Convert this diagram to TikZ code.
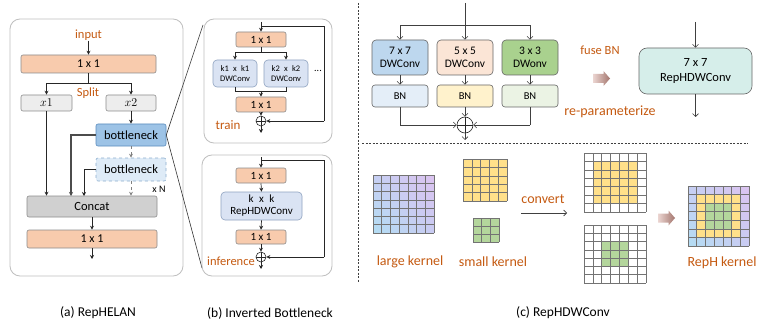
\documentclass[tikz,border=0pt]{standalone}
\usepackage{fontspec}
\setmainfont{Carlito}
\usetikzlibrary{arrows.meta,calc,shadings}
\definecolor{orn}{HTML}{C55A11}
\definecolor{peach}{HTML}{F8CBAD}
\definecolor{lgrey}{HTML}{EDEDED}
\definecolor{cgrey}{HTML}{D0D0D0}
\definecolor{bnblue}{HTML}{9DC3E6}
\definecolor{bndark}{HTML}{5B8DBE}
\definecolor{bnlblue}{HTML}{DEEBF7}
\definecolor{dwblue}{HTML}{DAE3F3}
\definecolor{dwbord}{HTML}{8FA3C0}
\definecolor{cseven}{HTML}{BDD7EE}
\definecolor{cfive}{HTML}{FBE5D6}
\definecolor{cthree}{HTML}{A9D18E}
\definecolor{bseven}{HTML}{E4EEF8}
\definecolor{bfive}{HTML}{FFF2CC}
\definecolor{bthree}{HTML}{EBF3E4}
\definecolor{repteal}{HTML}{D6EEEA}
\definecolor{kyel}{HTML}{FFE08A}
\definecolor{kgreen}{HTML}{B4D69C}
\definecolor{bord}{HTML}{8C8C8C}
\definecolor{panelb}{HTML}{BFBFBF}
\definecolor{kUL}{HTML}{C6CFF3}
\definecolor{kUR}{HTML}{DCC3F0}
\definecolor{kLL}{HTML}{B3DDF3}
\definecolor{kLR}{HTML}{C9CBF2}
\definecolor{barL}{HTML}{EBD5D1}
\definecolor{barR}{HTML}{A4766E}
\newcommand{\myfs}[1]{\fontsize{#1}{#1}\selectfont}
\newcommand{\kgrid}[5]{%
  \foreach \i in {0,...,#5}{%
    \pgfmathsetmacro{\kgx}{#1+(#3-#1)*\i/#5}%
    \pgfmathsetmacro{\kgy}{#2+(#4-#2)*\i/#5}%
    \draw[gridline] (\kgx,#2) -- (\kgx,#4);
    \draw[gridline] (#1,\kgy) -- (#3,\kgy);
  }}
\newcommand{\kcell}[8]{%
  \pgfmathsetmacro{\kxa}{#1+(#3-#1)*#6/#5}%
  \pgfmathsetmacro{\kya}{#2+(#4-#2)*#6/#5}%
  \pgfmathsetmacro{\kxb}{#1+(#3-#1)*(#7+1)/#5}%
  \pgfmathsetmacro{\kyb}{#2+(#4-#2)*(#7+1)/#5}%
  \fill[#8] (\kxa,\kya) rectangle (\kxb,\kyb);}
\newcommand{\blockarrow}[2]{%
  \shade[left color=barL, right color=barR, shift={(#1,#2)}]
    (-8.5,-4.5) -- (2,-4.5) -- (2,-7.5) -- (8.5,0) -- (2,7.5) -- (2,4.5) -- (-8.5,4.5) -- cycle;}
\begin{document}
\begin{tikzpicture}[x=1pt,y=-1pt,
  box/.style={draw=bord, line width=0.6pt, rounded corners=2pt, inner sep=0pt, align=center},
  panel/.style={draw=panelb, line width=0.8pt, rounded corners=10pt},
  lbl/.style={text=orn, inner sep=0pt},
  arr/.style={-{Stealth[length=4pt,width=4pt]}, line width=0.7pt, draw=black!85},
  arrc/.style={-{Straight Barb[length=3pt,width=6pt]}, line width=0.6pt, draw=black!75},
  lin/.style={line width=0.7pt, draw=black!85},
  linc/.style={line width=0.6pt, draw=black!75},
  plus/.style={circle, draw=black!85, line width=0.6pt, inner sep=0pt, minimum size=#1,
    path picture={\draw[line width=0.6pt] (path picture bounding box.north) -- (path picture bounding box.south) (path picture bounding box.west) -- (path picture bounding box.east);}},
  gridline/.style={draw=black!55, line width=0.6pt},
  sepline/.style={dash pattern=on 2pt off 1.5pt, line width=0.6pt, draw=black!75}
]
\useasboundingbox (0,0) rectangle (757,326);
\fill[white] (0,0) rectangle (757,326);

% ---------------- (a) RepHELAN
\draw[panel] (10,19) rectangle (183,276);
\node[lbl, font=\myfs{12.5}] (inT) at (88.5,35) {input};
\node[box, fill=peach, minimum width=135pt, minimum height=18pt, font=\myfs{12}] (a1) at (88.5,64) {1 x 1};
\coordinate (aS) at (88.5,83);
\node[box, fill=lgrey, minimum width=51pt, minimum height=16pt, font=\myfs{13}] (x1) at (46.5,103) {$x1$};
\node[box, fill=lgrey, minimum width=50pt, minimum height=16pt, font=\myfs{13}] (x2) at (131,103) {$x2$};
\node[lbl, font=\myfs{12.5}] (split) at (88,93) {Split};
\node[box, fill=bnblue, draw=bndark, minimum width=70pt, minimum height=22pt, font=\myfs{12.5}] (bn1) at (131,135) {bottleneck};
\node[box, fill=bnlblue, draw=bnblue!90!black, dashed, minimum width=70pt, minimum height=23pt, font=\myfs{12.5}] (bn2) at (131,169.5) {bottleneck};
\node[font=\myfs{10}, inner sep=0pt] (xn) at (159,189) {x N};
\node[box, fill=cgrey, minimum width=130pt, minimum height=21pt, font=\myfs{12.5}] (cc) at (92,206.5) {Concat};
\node[box, fill=peach, minimum width=130pt, minimum height=18pt, font=\myfs{12}] (a2) at (92,239) {1 x 1};
\coordinate (aout) at (92,259);
\coordinate (cA) at (71,196);
\coordinate (cB) at (84,196);
\draw[arr] (inT.south) -- (a1.north);
\draw[lin] (a1.south) -- (aS);
\draw[arr] (aS) -| (x1.north);
\draw[arr] (aS) -| (x2.north);
\draw[arr] (x1.south) -- (x1.south |- cc.north);
\draw[arr] (x2.south) -- (bn1.north);
\draw[arr, line width=1.3pt, draw=black!70] (bn1.west) -| (cA);
\draw[arr, dashed, draw=black!50] (bn1.south) -- (bn2.north);
\draw[arr] (bn2.west) -| (cB);
\draw[arr, dashed, draw=black!50] (bn2.south) -- (bn2.south |- cc.north);
\draw[arr] (cc.south) -- (a2.north);
\draw[arr] (a2.south) -- (aout);

% zoom lines
\coordinate (zt) at (203,25);
\coordinate (zb) at (202,268);
\draw[line width=0.6pt, draw=black!80] (bn1.east) -- (zt);
\draw[line width=0.6pt, draw=black!80] (bn1.east) -- (zb);

% ---------------- (b) top: train
\draw[panel] (204,19) rectangle (332,143);
\coordinate (bin) at (261,22);
\coordinate (bfb) at (261,26);
\node[box, fill=peach, minimum width=50pt, minimum height=15pt, font=\myfs{11}] (b1) at (261,39.5) {1 x 1};
\coordinate (bS) at (261,52);
\node[box, fill=dwblue, draw=dwbord, rounded corners=4pt, minimum width=44pt, minimum height=27pt, font=\myfs{8.5}] (k1) at (235,73.5) {k1\enspace x\enspace k1\\[1pt]DWConv};
\node[box, fill=dwblue, draw=dwbord, rounded corners=4pt, minimum width=44pt, minimum height=27pt, font=\myfs{8.5}] (k2) at (286,73.5) {k2\enspace x\enspace k2\\[1pt]DWConv};
\node[font=\myfs{10}, inner sep=0pt] (dots) at (318,71) {...};
\coordinate (j1) at (235,91);
\coordinate (j2) at (286,91);
\coordinate (jm) at (261,91);
\node[box, fill=peach, minimum width=50pt, minimum height=15pt, font=\myfs{11}] (b2) at (261,104.5) {1 x 1};
\node[plus=10pt] (p1) at (261,121) {};
\coordinate (bo1) at (261,133);
\coordinate (f1) at (324,26);
\coordinate (f2) at (324,121);
\node[lbl, font=\myfs{13}] (train) at (228,125) {train};
\draw[arr] (bin) -- (b1.north);
\draw[lin] (bfb) -- (f1) -- (f2);
\draw[arr] (f2) -- (p1.east);
\draw[lin] (b1.south) -- (bS);
\draw[arr] (bS) -| (k1.north);
\draw[arr] (bS) -| (k2.north);
\draw[lin] (k1.south) -- (j1) -- (j2) -- (k2.south);
\draw[arr] (jm) -- (b2.north);
\draw[arr] (b2.south) -- (p1.north);
\draw[arr] (p1.south) -- (bo1);

% ---------------- (b) bottom: inference
\draw[panel] (202,155) rectangle (332,276);
\coordinate (cin) at (261,157);
\coordinate (cfb) at (261,160);
\node[box, fill=peach, minimum width=50pt, minimum height=15pt, font=\myfs{11}] (c1) at (261,175.5) {1 x 1};
\node[box, fill=dwblue, draw=dwbord, rounded corners=4pt, minimum width=81pt, minimum height=28pt, font=\myfs{11}] (rep) at (261.5,206) {k\enspace x\enspace k\\[1pt]RepHDWConv};
\node[box, fill=peach, minimum width=50pt, minimum height=14pt, font=\myfs{11}] (c2) at (261,237) {1 x 1};
\node[plus=10pt] (p2) at (261,257) {};
\coordinate (bo2) at (261,269);
\coordinate (g1) at (324,160);
\coordinate (g2) at (324,257);
\node[lbl, font=\myfs{12.5}] (inf) at (231,261) {inference};
\draw[arr] (cin) -- (c1.north);
\draw[lin] (cfb) -- (g1) -- (g2);
\draw[arr] (g2) -- (p2.east);
\draw[arr] (c1.south) -- (rep.north);
\draw[arr] (rep.south) -- (c2.north);
\draw[arr] (c2.south) -- (p2.north);
\draw[arr] (p2.south) -- (bo2);

% ---------------- separators
\draw[sepline] (358,3) -- (358,282);
\draw[sepline] (362,143) -- (748,143);

% ---------------- (c) top
\coordinate (tin) at (465,3);
\coordinate (tb) at (465,25);
\node[box, fill=cseven, draw=black!60, rounded corners=4pt, minimum width=56pt, minimum height=35pt, font=\myfs{11.5}] (d7) at (400,57.5) {7 x 7\\[1pt]DWConv};
\node[box, fill=cfive, draw=black!60, rounded corners=4pt, minimum width=56pt, minimum height=35pt, font=\myfs{11.5}] (d5) at (465,57.5) {5 x 5\\[1pt]DWConv};
\node[box, fill=cthree, draw=black!60, rounded corners=4pt, minimum width=56pt, minimum height=35pt, font=\myfs{11.5}] (d3) at (530,57.5) {3 x 3\\[1pt]DWonv};
\node[box, fill=bseven, draw=black!60, rounded corners=3pt, minimum width=56pt, minimum height=22pt, font=\myfs{10.5}] (n7) at (400,96) {BN};
\node[box, fill=bfive, draw=black!60, rounded corners=3pt, minimum width=56pt, minimum height=22pt, font=\myfs{10.5}] (n5) at (465,96) {BN};
\node[box, fill=bthree, draw=black!60, rounded corners=3pt, minimum width=56pt, minimum height=22pt, font=\myfs{10.5}] (n3) at (530,96) {BN};
\node[plus=16pt] (p3) at (465,125) {};
\coordinate (tout) at (465,140);
\coordinate (l7) at (400,125);
\coordinate (l3) at (530,125);
\draw[arrc] (tin) -- (d5.north);
\draw[arrc] (tb) -| (d7.north);
\draw[arrc] (tb) -| (d3.north);
\draw[arrc] (d7.south) -- (n7.north);
\draw[arrc] (d5.south) -- (n5.north);
\draw[arrc] (d3.south) -- (n3.north);
\draw[linc] (n7.south) -- (l7);
\draw[arrc] (l7) -- (p3.west);
\draw[linc] (n3.south) -- (l3);
\draw[arrc] (l3) -- (p3.east);
\draw[arrc] (n5.south) -- (p3.north);
\draw[arrc] (p3.south) -- (tout);

\node[lbl, font=\myfs{12.5}] (fuse) at (600,50) {fuse BN};
\blockarrow{601.5}{78.5}
\node[lbl, font=\myfs{14}] (repar) at (610,112) {re-parameterize};
\node[box, fill=repteal, draw=black!60, rounded corners=8pt, minimum width=113pt, minimum height=46pt, font=\myfs{12.5}] (r7) at (695.5,71) {7 x 7\\[2pt]RepHDWConv};
\coordinate (rin) at (695.5,22);
\coordinate (rout) at (695.5,117);
\draw[arrc] (rin) -- (r7.north);
\draw[arrc] (r7.south) -- (rout);

% ---------------- (c) bottom: kernels
\shade[upper left=kUL, upper right=kUR, lower left=kLL, lower right=kLR] (373,175) rectangle (434,233);
\kgrid{373}{175}{434}{233}{7}
\fill[kyel] (463,159) rectangle (507,201);
\kgrid{463}{159}{507}{201}{5}
\fill[kgreen] (473,218) rectangle (499,242);
\kgrid{473}{218}{499}{242}{3}
\node[lbl, font=\myfs{14}] (lk) at (410,262) {large kernel};
\node[lbl, font=\myfs{14}] (sk) at (493,262) {small kernel};
\node[lbl, font=\myfs{14}] (cv) at (543,199) {convert};
\coordinate (cv1) at (521,213);
\coordinate (cv2) at (567,213);
\draw[arrc] (cv1) -- (cv2);
\kcell{584}{153}{646}{212}{7}{1}{5}{kyel}
\kgrid{584}{153}{646}{212}{7}
\kcell{584}{225}{646}{283}{7}{2}{4}{kgreen}
\kgrid{584}{225}{646}{283}{7}
\blockarrow{666.5}{218}
\shade[upper left=kUL, upper right=kUR, lower left=kLL, lower right=kLR] (688,186) rectangle (749,246);
\kcell{688}{186}{749}{246}{7}{1}{5}{kyel}
\kcell{688}{186}{749}{246}{7}{2}{4}{kgreen}
\kgrid{688}{186}{749}{246}{7}
\node[lbl, font=\myfs{14}] (rk) at (722,263) {RepH kernel};

% ---------------- captions
\node[font=\myfs{13.5}] (capa) at (98,313) {(a) RepHELAN};
\node[font=\myfs{13.5}] (capb) at (270,313) {(b) Inverted Bottleneck};
\node[font=\myfs{13.5}] (capc) at (563,313) {(c) RepHDWConv};
\end{tikzpicture}
\end{document}
